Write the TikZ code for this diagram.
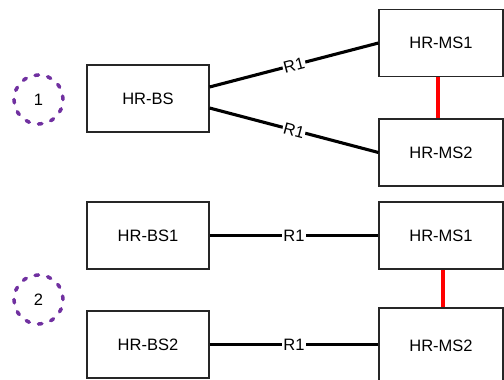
\documentclass[tikz,border=0pt]{standalone}
\usepackage{fontspec}
\setmainfont{Liberation Sans}
\definecolor{circpurple}{HTML}{7030A0}
\definecolor{linkred}{HTML}{FF0000}
\begin{document}
\begin{tikzpicture}[x=1pt,y=-1pt,
  every node/.style={font=\fontsize{16.5}{19}\selectfont},
  box/.style={draw=black!85, line width=1.1pt, fill=white, inner sep=0pt},
  bsbox/.style={box, minimum width=122pt, minimum height=67pt},
  msbox/.style={box, minimum width=124pt, minimum height=67pt},
  link/.style={line width=3.1pt, black},
  redlink/.style={line width=3.2pt, linkred},
  lbl/.style={fill=white, inner sep=1pt},
  marker/.style={circle, draw=circpurple, line width=3.5pt, line cap=round,
    dash pattern=on 3.5pt off 9.3pt, minimum size=49pt, inner sep=0pt}]
\useasboundingbox (0,0) rectangle (504,380);
\clip (0,0) rectangle (504,380);
% group 1
\node[marker] (c1) at (38.5,99.5) {1};
\node[bsbox] (bs) at (148,98.5) {HR-BS};
\node[msbox] (ms1) at (441,43) {HR-MS1};
\node[msbox] (ms2) at (441,152.5) {HR-MS2};
\draw[link] ([yshift=11.5pt]bs.east) -- node[lbl, sloped] {R1} (ms1.west);
\draw[link] ([yshift=-9.5pt]bs.east) -- node[lbl, sloped] {R1} (ms2.west);
\draw[redlink] ([xshift=-3pt]ms1.south) -- ([xshift=-3pt]ms2.north);
% group 2
\node[marker] (c2) at (38.5,299.5) {2};
\node[bsbox] (bs1) at (148,235.5) {HR-BS1};
\node[msbox] (ms1b) at (441,235.5) {HR-MS1};
\node[bsbox] (bs2) at (148,344.5) {HR-BS2};
\node[msbox, minimum height=75pt] (ms2b) at (441,345.5) {HR-MS2};
\draw[link] (bs1.east) -- node[lbl] {R1} (ms1b.west);
\draw[link] (bs2.east) -- node[lbl] {R1} (bs2.east -| ms2b.west);
\draw[redlink] ([xshift=2pt]ms1b.south) -- ([xshift=2pt]ms1b.south |- ms2b.north);
\end{tikzpicture}
\end{document}
